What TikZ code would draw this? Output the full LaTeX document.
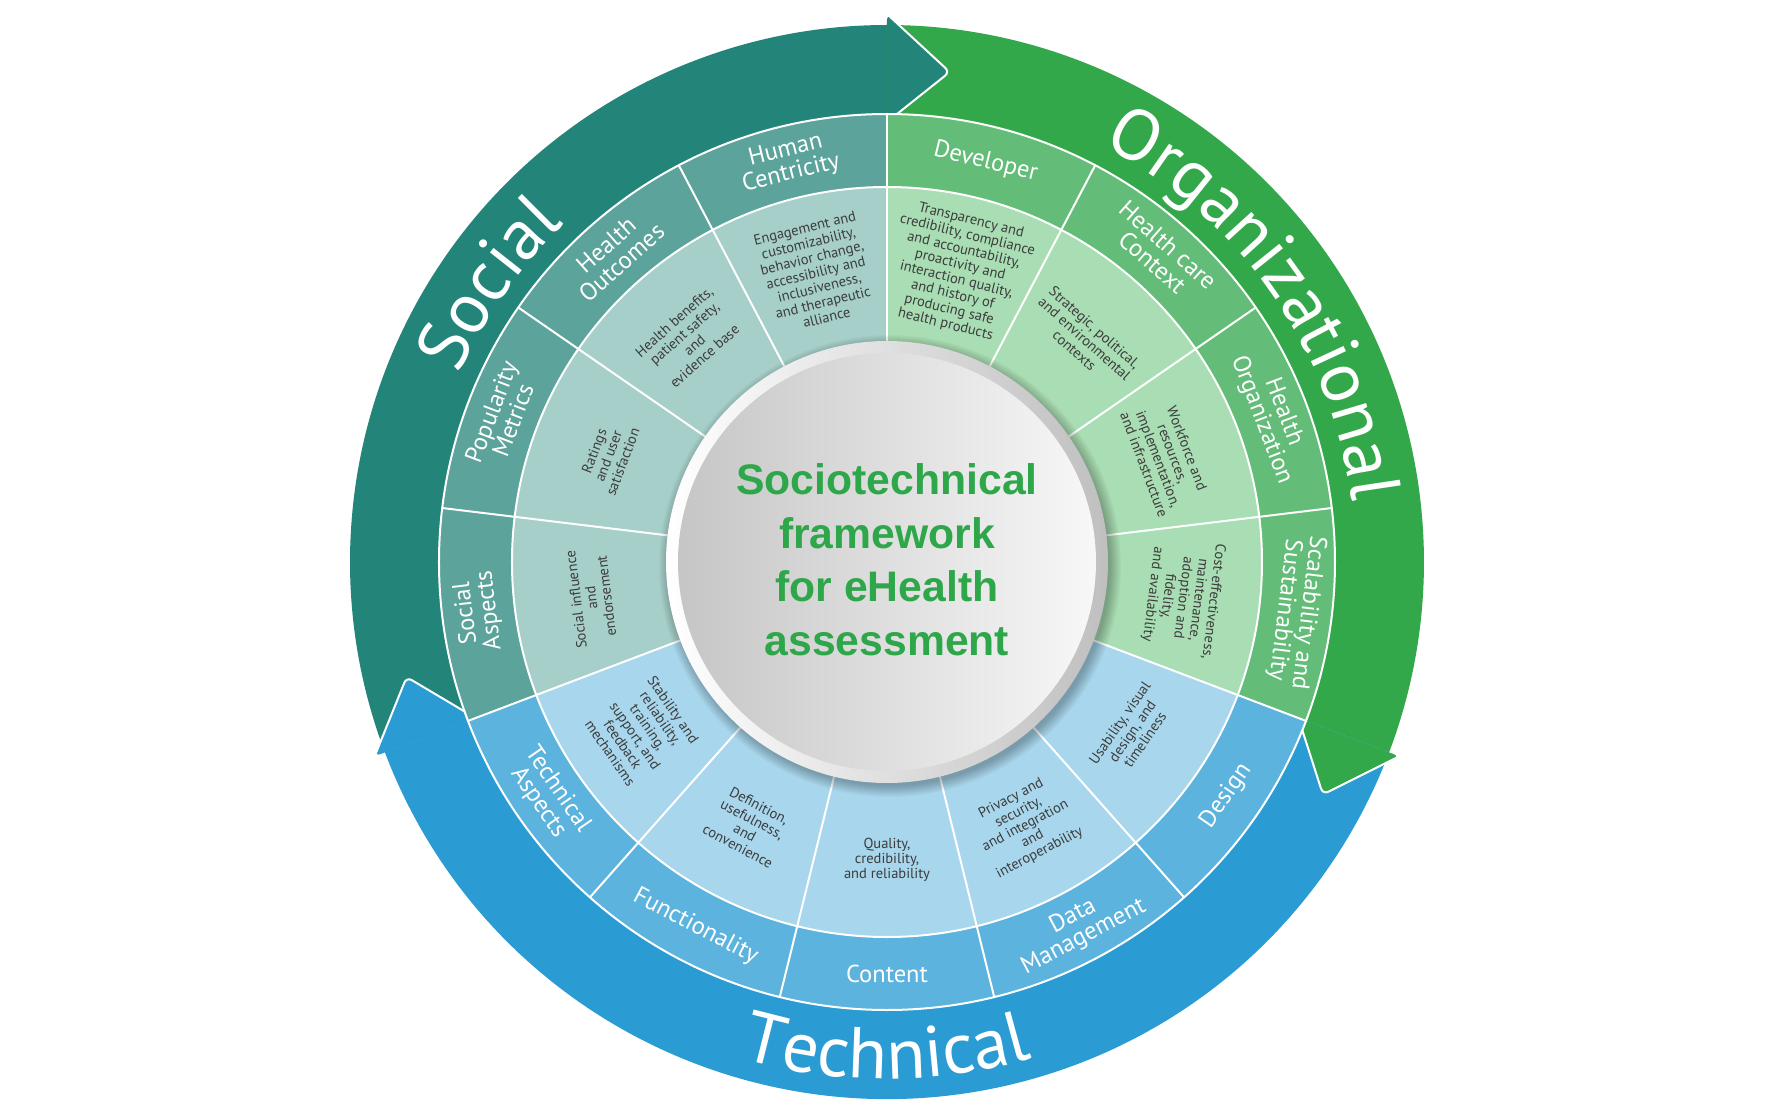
\documentclass[tikz,border=0pt]{standalone}
\usepackage{fontspec}
\setmainfont{PT Sans}
\newfontfamily\titlefont{Liberation Sans}
\usetikzlibrary{decorations.text}
\definecolor{socA}{HTML}{23857A}
\definecolor{socO}{HTML}{5BA39B}
\definecolor{socI}{HTML}{A6CFCA}
\definecolor{orgA}{HTML}{33A84A}
\definecolor{orgO}{HTML}{63BD78}
\definecolor{orgI}{HTML}{A9DDB3}
\definecolor{tecA}{HTML}{2A9BD3}
\definecolor{tecO}{HTML}{5BB3DE}
\definecolor{tecI}{HTML}{A8D6EC}
\definecolor{titlegreen}{HTML}{2EA64A}
\definecolor{innertext}{HTML}{3C3C3C}
\newcommand\bigfont{\fontsize{72}{78}\selectfont}
\newcommand\arrowband[3]{%
  \fill[#1] (#2:448pt) arc[start angle=#2, end angle=#3, radius=448pt] -- (#3:537pt) arc[start angle=#3, end angle=#2, radius=537pt] -- cycle;}
\newcommand\arrowtip[2]{%
  \pgfmathsetmacro\tipang{#2-7.3}%
  \fill[#1, rounded corners=6pt] (#2:548pt) -- (\tipang:494pt) -- (#2:440pt) -- cycle;
  \draw[headedge] (#2:548pt) -- (\tipang:494pt) -- (#2:440pt);}
\newcommand\segtext[3]{%
  \pgfmathsetmacro\cang{90+(#1+0.5)*27.6923}%
  \pgfmathsetmacro\rot{(#1>3 && #1<9) ? (\cang+90) : (\cang-90)}%
  \node[seglabel, rotate=\rot] (o#1) at (\cang:412pt) {#2};
  \node[innerlabel, rotate=\rot] (i#1) at (\cang:298pt) {#3};}
\begin{document}
\begin{tikzpicture}[x=1pt,y=1pt,
  seglabel/.style={text=white, font=\fontsize{24.5}{23.5}\selectfont, align=center, inner sep=0pt},
  innerlabel/.style={text=innertext, font=\fontsize{14.5}{15.3}\selectfont, align=center, inner sep=0pt},
  titleline/.style={text=titlegreen, font=\titlefont\bfseries\fontsize{42.7}{50}\selectfont, anchor=base, inner sep=0pt},
  sepline/.style={white, line width=2pt},
  headedge/.style={white, line width=2pt, rounded corners=6pt, line join=round}
]
\useasboundingbox (-887,-550) rectangle (891,562);
\fill[white] (-887,-550) rectangle (891,562);

% arrow bands
\arrowband{socA}{200.7692}{90}
\arrowband{orgA}{90}{-20.7692}
\arrowband{tecA}{-20.7692}{-159.2308}
% arrow heads
\arrowtip{socA}{90}
\arrowtip{orgA}{-20.7692}
\arrowtip{tecA}{-159.2308}

% big labels along the arcs
\path[decorate, decoration={text along path, text={|\bigfont|Social}, text align=center, text color=white}]
  (200:467pt) arc[start angle=200, end angle=90, radius=467pt];
\path[decorate, decoration={text along path, text={|\bigfont|Organizational}, text align=center, text color=white}]
  (95:469pt) arc[start angle=95, end angle=-25, radius=469pt];
\path[decorate, decoration={text along path, text={|\bigfont|Technical}, text align=center, text color=white}]
  (220:517pt) arc[start angle=220, end angle=320, radius=517pt];

% ring sectors
\foreach \k/\co/\ci in {0/socO/socI,1/socO/socI,2/socO/socI,3/socO/socI,
  4/tecO/tecI,5/tecO/tecI,6/tecO/tecI,7/tecO/tecI,8/tecO/tecI,
  9/orgO/orgI,10/orgO/orgI,11/orgO/orgI,12/orgO/orgI}{
  \pgfmathsetmacro\aa{90+\k*27.6923}
  \pgfmathsetmacro\ab{90+(\k+1)*27.6923}
  \fill[\co] (\aa:375pt) arc[start angle=\aa, end angle=\ab, radius=375pt] -- (\ab:448pt) arc[start angle=\ab, end angle=\aa, radius=448pt] -- cycle;
  \fill[\ci] (\aa:200pt) arc[start angle=\aa, end angle=\ab, radius=200pt] -- (\ab:375pt) arc[start angle=\ab, end angle=\aa, radius=375pt] -- cycle;
}
\foreach \k in {0,...,12}{
  \pgfmathsetmacro\aa{90+\k*27.6923}
  \draw[sepline] (\aa:215pt) -- (\aa:448pt);
}
\draw[sepline] (0,0) circle[radius=375pt];
\draw[sepline] (0,0) circle[radius=448pt];

% center disc with shadow
\foreach \i in {1,...,12}{
  \fill[black, opacity=0.022] (3,-4) circle[radius={(219+\i)*1pt}];
}
\shade[left color=white, right color=gray!50] (0,0) circle[radius=221pt];
\shade[left color=gray!45, right color=gray!6] (0,0) circle[radius=209pt];

\node[titleline] (t1) at (0,68) {Sociotechnical};
\node[titleline] (t2) at (0,14) {framework};
\node[titleline] (t3) at (0,-39.7) {for eHealth};
\node[titleline] (t4) at (0,-93) {assessment};

% segment labels
\segtext{0}{Human\\Centricity}{Engagement and\\customizability,\\behavior change,\\accessibility and\\inclusiveness,\\and therapeutic\\alliance}
\segtext{1}{Health\\Outcomes}{Health benefits,\\patient safety,\\and\\evidence base}
\segtext{2}{Popularity\\Metrics}{Ratings\\and user\\satisfaction}
\segtext{3}{Social\\Aspects}{Social influence\\and\\endorsement}
\segtext{4}{Technical\\Aspects}{Stability and\\reliability,\\training,\\support, and\\feedback\\mechanisms}
\segtext{5}{Functionality}{Definition,\\usefulness,\\and\\convenience}
\segtext{6}{Content}{Quality,\\credibility,\\and reliability}
\segtext{7}{Data\\Management}{Privacy and\\security,\\and integration\\and\\interoperability}
\segtext{8}{Design}{Usability, visual\\design, and\\timeliness}
\segtext{9}{Scalability and\\Sustainability}{Cost-effectiveness,\\maintenance,\\adoption and\\fidelity,\\and availability}
\segtext{10}{Health\\Organization}{Workforce and\\resources,\\implementation,\\and infrastructure}
\segtext{11}{Health care\\Context}{Strategic, political,\\and environmental\\contexts}
\segtext{12}{Developer}{Transparency and\\credibility, compliance\\and accountability,\\proactivity and\\interaction quality,\\and history of\\producing safe\\health products}
\end{tikzpicture}
\end{document}
